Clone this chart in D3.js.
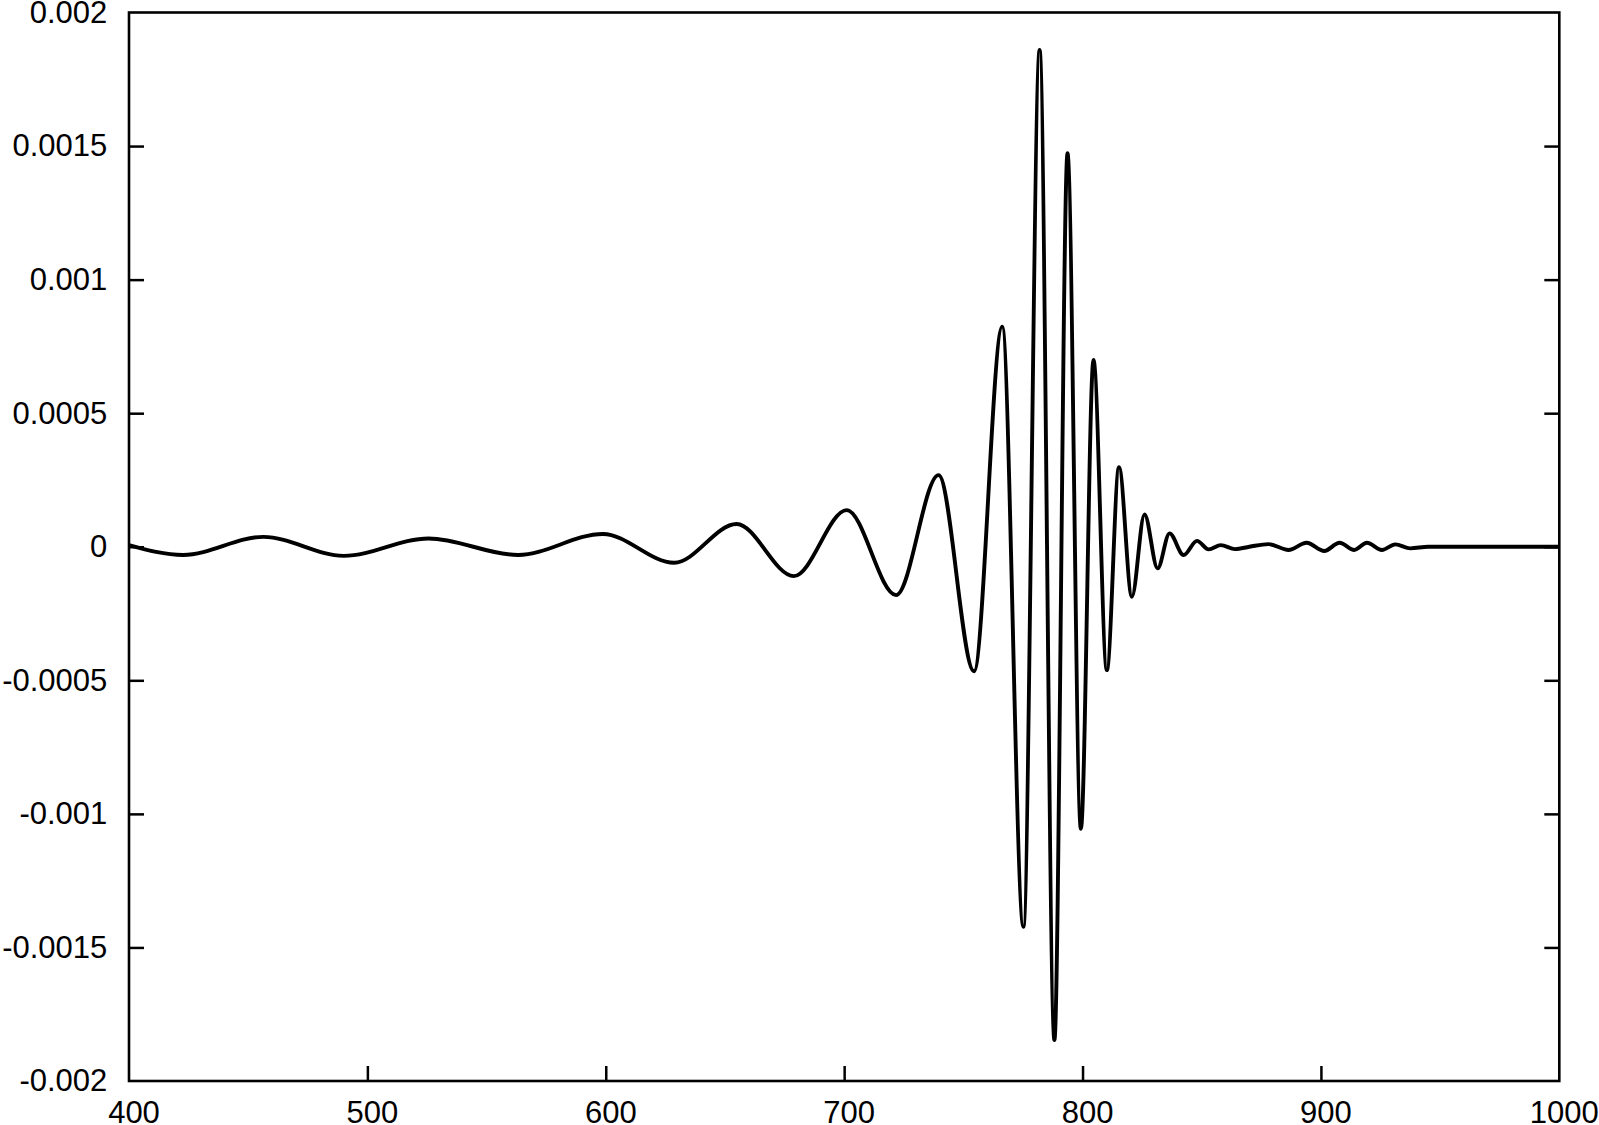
<!DOCTYPE html>
<html>
<head>
<meta charset="utf-8">
<script src="https://cdn.jsdelivr.net/npm/d3@7"></script>
<style>
  html, body { margin: 0; padding: 0; background: #fff; }
  svg { display: block; }
  .tick text { font-family: "Liberation Sans", Arial, sans-serif; font-size: 31px; fill: #000; }
  .tick line { stroke: #000; stroke-width: 2.5px; }
</style>
</head>
<body>
<div id="chart"></div>
<script>
// wave extrema (x, amplitude)
var waveX = [400, 422.7, 456.4, 490.1, 525.7, 563.2, 598.8, 628.7, 654.9, 678.9,
             701.1, 721.8, 739.6, 754.5, 766.3, 775.2, 782, 788.2, 793.7, 799.3,
             804.6, 810.2, 815.3, 820.7, 826, 831.5, 836.5, 842.4, 848, 852.9,
             858, 864, 870, 878, 886.4, 894, 901.4, 907.8, 914, 919.3,
             925.6, 931.2, 937.5, 945, 1000];
var waveY = [0.000006, -0.000031, 0.000037, -0.000034, 0.000031, -0.000031, 0.000048, -0.00006, 0.000085, -0.00011,
             0.000137, -0.000181, 0.000268, -0.000466, 0.000824, -0.001423, 0.00186, -0.001847, 0.001473, -0.001056,
             0.000699, -0.000462, 0.000298, -0.000187, 0.000121, -0.000081, 0.00005, -0.000031, 0.000022, -0.00001,
             0.000006, -0.000009, 0, 0.00001, -0.000012, 0.000015, -0.000016, 0.000015, -0.000012, 0.000015,
             -0.000012, 0.000009, -0.000006, 0, 0];

var xTicks = [400, 500, 600, 700, 800, 900, 1000];
var xTickLabels = ["400", "500", "600", "700", "800", "900", "1000"];
var yTicks = [-0.002, -0.0015, -0.001, -0.0005, 0, 0.0005, 0.001, 0.0015, 0.002];
var yTickLabels = ["-0.002", "-0.0015", "-0.001", "-0.0005", "0", "0.0005", "0.001", "0.0015", "0.002"];

var width = 1599,
    height = 1125,
    margin = {top: 12.5, right: 39.7, bottom: 44, left: 129},
    innerW = width - margin.left - margin.right,
    innerH = height - margin.top - margin.bottom;

var svg = d3.select("#chart").append("svg")
    .attr("width", width)
    .attr("height", height);

var g = svg.append("g")
    .attr("transform", "translate(" + margin.left + "," + margin.top + ")");

var x = d3.scaleLinear().domain([400, 1000]).range([0, innerW]);
var y = d3.scaleLinear().domain([-0.002, 0.002]).range([innerH, 0]);

// axes: inward ticks on bottom, left and right (none on top)
g.append("g")
    .attr("transform", "translate(0," + innerH + ")")
    .call(d3.axisBottom(x).tickValues(xTicks).tickSizeInner(-15).tickSizeOuter(0).tickPadding(20)
      .tickFormat(function (d, i) { return xTickLabels[i]; }))
    .call(function (a) { a.select(".domain").remove(); a.selectAll("text").attr("dx", 4.5); });

g.append("g")
    .call(d3.axisLeft(y).tickValues(yTicks).tickSizeInner(-15).tickSizeOuter(0).tickPadding(21.7)
      .tickFormat(function (d, i) { return yTickLabels[i]; }))
    .call(function (a) { a.select(".domain").remove(); });

g.append("g")
    .attr("transform", "translate(" + innerW + ",0)")
    .call(d3.axisRight(y).tickValues(yTicks).tickSizeInner(-15).tickSizeOuter(0).tickFormat(""))
    .call(function (a) { a.select(".domain").remove(); });

g.selectAll(".tick").filter(function (d) { return d === 400 || d === 1000 || d === 0.002 || d === -0.002; })
    .select("line").remove();

// frame
g.append("rect")
    .attr("x", 0).attr("y", 0)
    .attr("width", innerW).attr("height", innerH)
    .attr("fill", "none")
    .attr("stroke", "#000")
    .attr("stroke-width", 2.6);

// the wave
var line = d3.line()
    .x(function (d, i) { return x(waveX[i]); })
    .y(function (d) { return y(d); })
    .curve(d3.curveMonotoneX);

g.append("path")
    .datum(waveY)
    .attr("d", line)
    .attr("fill", "none")
    .attr("stroke", "#000")
    .attr("stroke-width", 3.9)
    .attr("stroke-linejoin", "round");
</script>
</body>
</html>
